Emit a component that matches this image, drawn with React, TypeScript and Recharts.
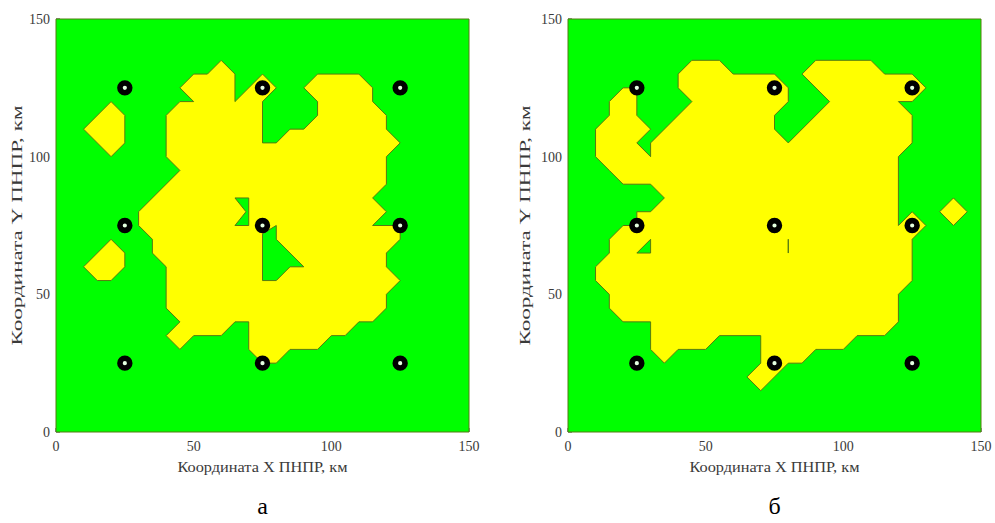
import React from "react";
import { ScatterChart, Scatter, XAxis, YAxis, Polygon } from "recharts";

type Pt = [number, number];

const ticks = [0, 50, 100, 150];
const xTitle = "Координата X ПНПР, км";
const yTitle = "Координата Y ПНПР, км";

// plot frame and the nine stations (same in both panels)
const frame: Pt[] = [[0, 0], [150, 0], [150, 150], [0, 150]];
const stations: Pt[] = [
  [25, 25], [75, 25], [125, 25],
  [25, 75], [75, 75], [125, 75],
  [25, 125], [75, 125], [125, 125],
];

// panel а
const zoneA: Pt[] = [
  [60, 135], [65, 130], [65, 120], [75, 130], [80, 125], [75, 120], [75, 105],
  [80, 105], [85, 110], [90, 110], [95, 115], [95, 120], [90, 125], [95, 130],
  [110, 130], [115, 125], [115, 120], [120, 115], [120, 110], [125, 105],
  [120, 100], [120, 90], [115, 85], [120, 80], [115, 75], [125, 75], [125, 70],
  [120, 65], [120, 60], [125, 55], [120, 50], [120, 45], [115, 40], [110, 40],
  [105, 35], [100, 35], [95, 30], [85, 30], [80, 25], [75, 25], [70, 30],
  [70, 40], [65, 40], [60, 35], [50, 35], [45, 30], [40, 35], [45, 40],
  [40, 45], [40, 60], [35, 65], [35, 70], [30, 75], [30, 80], [45, 95],
  [40, 100], [40, 115], [45, 120], [50, 120], [45, 125], [50, 130], [55, 130],
];
const islandA1: Pt[] = [[10, 110], [20, 120], [25, 115], [25, 105], [20, 100]];
const islandA2: Pt[] = [[10, 60], [20, 70], [25, 65], [25, 60], [20, 55], [15, 55]];
const holeA1: Pt[] = [[65, 85], [70, 85], [70, 75], [65, 75], [69, 80]];
const holeA2: Pt[] = [[75, 72], [80, 75], [80, 70], [90, 60], [85, 60], [80, 55], [75, 55]];

// panel б
const zoneB: Pt[] = [
  [125, 120], [120, 120], [125, 115], [125, 105], [120, 100], [120, 75],
  [125, 80], [130, 75], [125, 70], [125, 55], [120, 50], [120, 40], [115, 35],
  [105, 35], [100, 30], [90, 30], [85, 25], [80, 25], [75, 20], [70, 15],
  [65, 20], [70, 25], [70, 35], [55, 35], [50, 30], [40, 30], [35, 25],
  [30, 30], [30, 40], [20, 40], [15, 45], [15, 50], [10, 55], [10, 60],
  [15, 65], [15, 70], [20, 75], [25, 75], [25, 80], [30, 80], [35, 85],
  [30, 90], [20, 90], [15, 95], [10, 100], [10, 110], [15, 115], [15, 120],
  [20, 125], [25, 125], [25, 115], [30, 110], [25, 105], [30, 100], [30, 105],
  [45, 120], [40, 125], [40, 130], [45, 135], [55, 135], [60, 130], [75, 130],
  [80, 125], [80, 120], [75, 115], [75, 110], [80, 105], [95, 120], [85, 130],
  [90, 135], [110, 135], [115, 130], [125, 130], [130, 125],
];
const islandB1: Pt[] = [[135, 80], [140, 85], [145, 80], [140, 75]];
const holeB1: Pt[] = [[25, 65], [30, 70], [30, 65]];
const slitB1: Pt[] = [[80, 65], [80, 70]];

const GREEN = "#00ff00";
const YELLOW = "#ffff00";
const EDGE = "#557a12";
const TEXT = "#3a3a3a";
const FONT = "'Liberation Serif', 'Times New Roman', serif";

const PLOT_LEFT = 56;
const PLOT_TOP = 19;
const PLOT_SIZE = 413;

const toData = (p: Pt[]) => p.map(([x, y]) => ({ x, y }));

const Empty = () => <g />;

const polyLine = (fill: string) => (props: any) => (
  <Polygon points={props.points} fill={fill} stroke={EDGE} strokeWidth={1} />
);

const Station = (props: any) => (
  <circle cx={props.cx} cy={props.cy} r={4.9} fill="#e4ffe0" stroke="#000" strokeWidth={5.6} />
);

function Panel({
  left, width, yLabelX, caption, yellow, green, slits,
}: {
  left: number; width: number; yLabelX: number; caption: string;
  yellow: Pt[][]; green: Pt[][]; slits: Pt[][];
}) {
  const cx = PLOT_LEFT + PLOT_SIZE / 2;
  const cy = PLOT_TOP + PLOT_SIZE / 2;
  const bottom = PLOT_TOP + PLOT_SIZE;
  return (
    <div style={{ position: "absolute", left, top: 0 }}>
      <ScatterChart
        width={width}
        height={523}
        margin={{ top: PLOT_TOP, right: width - PLOT_LEFT - PLOT_SIZE, bottom: 0, left: 0 }}
      >
        <XAxis
          type="number" dataKey="x" domain={[0, 150]} ticks={ticks} height={91}
          axisLine={false} tickSize={-4} tickMargin={13}
          tickLine={{ stroke: "#333" }}
          tick={{ fontSize: 14, fontFamily: FONT, fill: TEXT }}
          label={{
            content: () => (
              <g fontFamily={FONT} fill={TEXT} textAnchor="middle">
                <text x={cx} y={bottom + 35} fontSize={14} dominantBaseline="central"
                  textLength={170} lengthAdjust="spacingAndGlyphs">{xTitle}</text>
                <text x={cx} y={bottom + 74} fontSize={24} fill="#000" dominantBaseline="central">{caption}</text>
              </g>
            ),
          }}
        />
        <YAxis
          type="number" dataKey="y" domain={[0, 150]} ticks={ticks} width={PLOT_LEFT}
          axisLine={false} tickSize={-4} tickMargin={10}
          tickLine={{ stroke: "#333" }}
          tick={{ fontSize: 14, fontFamily: FONT, fill: TEXT }}
          label={{
            content: () => (
              <text x={yLabelX} y={cy} transform={`rotate(-90 ${yLabelX} ${cy})`}
                textAnchor="middle" dominantBaseline="central" fontSize={15}
                fontFamily={FONT} fill={TEXT} textLength={240} lengthAdjust="spacingAndGlyphs">
                {yTitle}
              </text>
            ),
          }}
        />
        <XAxis xAxisId="top" orientation="top" type="number" domain={[0, 150]} ticks={ticks}
          height={0} axisLine={false} tick={false} tickSize={-4} tickLine={{ stroke: "#333" }} />
        <YAxis yAxisId="right" orientation="right" type="number" domain={[0, 150]} ticks={ticks}
          width={0} axisLine={false} tick={false} tickSize={-4} tickLine={{ stroke: "#333" }} />

        <Scatter data={toData(frame)} shape={Empty} line={polyLine(GREEN)} isAnimationActive={false} />
        {yellow.map((p, i) => (
          <Scatter key={"y" + i} data={toData(p)} shape={Empty} line={polyLine(YELLOW)} isAnimationActive={false} />
        ))}
        {green.map((p, i) => (
          <Scatter key={"g" + i} data={toData(p)} shape={Empty} line={polyLine(GREEN)} isAnimationActive={false} />
        ))}
        {slits.map((p, i) => (
          <Scatter key={"s" + i} data={toData(p)} shape={Empty} line={polyLine("none")} isAnimationActive={false} />
        ))}
        <Scatter data={toData(stations)} shape={Station} isAnimationActive={false} />
      </ScatterChart>
    </div>
  );
}

export default function App() {
  return (
    <div style={{ position: "absolute", left: 0, top: 0, width: 995, height: 523, background: "#fff" }}>
      <Panel left={0} width={497} yLabelX={16.5} caption="а"
        yellow={[zoneA, islandA1, islandA2]} green={[holeA1, holeA2]} slits={[]} />
      <Panel left={512} width={483} yLabelX={13.3} caption="б"
        yellow={[zoneB, islandB1]} green={[holeB1]} slits={[slitB1]} />
    </div>
  );
}
